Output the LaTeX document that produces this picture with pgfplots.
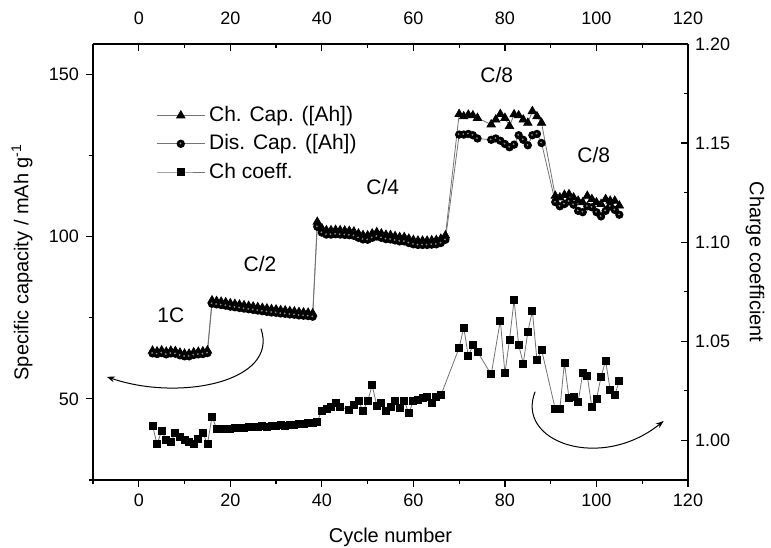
\documentclass[border=0pt]{standalone}
\usepackage{pgfplots}
\pgfplotsset{compat=1.18}
\usepackage{fontspec}
\setmainfont{Liberation Sans}
\usetikzlibrary{arrows.meta}

% dark sphere-like marker: black disc with a small light spot
\pgfdeclareplotmark{sball}{%
  \pgfpathcircle{\pgfpointorigin}{\pgfplotmarksize}%
  \pgfsetfillcolor{black}\pgfusepathqfill
  \pgfpathcircle{\pgfpoint{-0.1\pgfplotmarksize}{0.1\pgfplotmarksize}}{0.24\pgfplotmarksize}%
  \pgfsetfillcolor{black!45}\pgfusepathqfill
}

\begin{document}
\begin{tikzpicture}
\pgfplotsset{
  base/.style={
    width=297.5pt, height=218pt, scale only axis,
    xmin=-10, xmax=120, clip=false,
    major tick length=3.5pt, minor tick length=2.2pt,
    every tick/.append style={line width=0.6pt, black},
    tick label style={font=\fontsize{9}{10}\selectfont},
    /pgf/number format/assume math mode=true,
    xtick={0,20,...,120}, minor xtick={-10,10,...,110},
  },
  noarrows/.style={
    axis line style={line width=0.75pt, -},
    every outer x axis line/.append style={-},
    every outer y axis line/.append style={-},
    every inner x axis line/.append style={-},
    every inner y axis line/.append style={-},
  },
  capline/.style={black!55, line width=0.4pt},
}
\def\lab{\fontsize{10.5}{12}\selectfont}

% left axis: capacities
\begin{axis}[base,
  axis x line=bottom, axis y line=left, noarrows, tick align=outside,
  ymin=25, ymax=159.3, ytick={50,100,150}, minor ytick={25,75,125},
  legend style={at={(0.096,0.876)}, anchor=north west, draw=none, fill=none,
    font=\lab, row sep=1pt},
  legend cell align=left,
  legend image code/.code={\draw[mark repeat=2,mark phase=2,#1] plot coordinates {(0cm,0cm) (0.42cm,0cm) (0.84cm,0cm)};},
]
\addplot[capline, mark=triangle*, mark size=2.4pt, mark options={fill=black,draw=black}] coordinates {
 (3,64.8)(4,64.6)(5,64.9)(6,64.5)(7,64.8)(8,64.7)(9,64.2)(10,63.9)(11,63.9)(12,64.3)(13,64.5)(14,64.6)(15,64.9)
 (16,80.3)(17,80.1)(18,79.9)(19,79.7)(20,79.4)(21,79.2)(22,79.0)(23,78.8)(24,78.6)(25,78.4)(26,78.2)(27,78.0)
 (28,77.8)(29,77.6)(30,77.5)(31,77.3)(32,77.2)(33,77.0)(34,76.9)(35,76.7)(36,76.6)(37,76.5)(38,76.3)
 (39,104.5)(40,102.5)(41,101.9)(42,101.9)(43,102.0)(44,101.9)(45,101.8)(46,101.7)(47,101.5)(48,100.9)(49,100.4)
 (50,100.3)(51,100.9)(52,101.3)(53,100.9)(54,100.5)(55,100.4)(56,100.1)(57,99.8)(58,99.8)(59,99.3)(60,98.9)
 (61,98.7)(62,98.7)(63,98.7)(64,98.8)(65,98.9)(66,99.3)(67,100.3)
 (70,137.7)(71,137.0)(72,137.5)(73,137.3)(74,136.5)(77,134.5)(78,136.0)(79,137.7)(80,136.5)(81,134.0)
 (82,137.6)(83,137.3)(84,136.0)(85,135.0)(86,138.6)(87,137.0)(88,135.0)
 (91,112.5)(92,112.0)(93,112.8)(94,113.0)(95,112.0)(96,111.0)(97,110.5)(98,112.5)(99,111.5)(100,110.5)
 (101,110.0)(102,111.5)(103,111.0)(104,111.0)(105,109.5)
};
\addlegendentry{Ch. Cap. ([Ah])}
\addplot[capline, mark=sball, mark size=2.1pt] coordinates {
 (3,64.0)(4,63.8)(5,64.1)(6,63.7)(7,64.0)(8,63.9)(9,63.4)(10,63.1)(11,63.1)(12,63.5)(13,63.7)(14,63.8)(15,64.1)
 (16,79.3)(17,79.1)(18,78.9)(19,78.7)(20,78.4)(21,78.2)(22,78.0)(23,77.8)(24,77.6)(25,77.4)(26,77.2)(27,77.0)
 (28,76.8)(29,76.6)(30,76.5)(31,76.3)(32,76.2)(33,76.0)(34,75.9)(35,75.7)(36,75.6)(37,75.5)(38,75.3)
 (39,103.0)(40,101.2)(41,100.6)(42,100.6)(43,100.7)(44,100.6)(45,100.5)(46,100.4)(47,100.2)(48,99.6)(49,99.1)
 (50,99.0)(51,99.6)(52,100.0)(53,99.6)(54,99.2)(55,99.1)(56,98.8)(57,98.5)(58,98.5)(59,98.0)(60,97.6)
 (61,97.4)(62,97.4)(63,97.4)(64,97.5)(65,97.6)(66,98.0)(67,99.0)
 (70,131.4)(71,131.4)(72,131.6)(73,131.2)(74,130.2)(77,129.8)(78,130.2)(79,129.5)(80,128.5)(81,127.5)
 (82,128.3)(83,131.2)(84,129.8)(85,128.1)(86,131.2)(87,131.6)(88,128.8)
 (91,110.6)(92,109.3)(93,110.0)(94,110.8)(95,109.8)(96,107.9)(97,107.5)(98,109.3)(99,109.0)(100,107.5)
 (101,106.2)(102,107.9)(103,109.3)(104,108.2)(105,106.7)
};
\addlegendentry{Dis. Cap. ([Ah])}
\addlegendimage{capline, mark=square*, mark size=1.75pt, mark options={fill=black,draw=black}}
\addlegendentry{Ch coeff.}

\node[font=\lab] at (axis cs:7,75.8) {1C};
\node[font=\lab] at (axis cs:26.5,91.4) {C/2};
\node[font=\lab] at (axis cs:53.3,115.4) {C/4};
\node[font=\lab] at (axis cs:78.2,149.9) {C/8};
\node[font=\lab] at (axis cs:99.4,125.2) {C/8};

\draw[line width=0.5pt, -{Stealth[length=4pt,width=2.8pt]}] (axis cs:26.7,71.6)
  .. controls (axis cs:30.7,55.2) and (axis cs:8.8,49.1) .. (axis cs:-7,56.8);
\draw[line width=0.5pt, -{Stealth[length=4pt,width=2.8pt]}] (axis cs:86.6,52.2)
  .. controls (axis cs:82.2,36.7) and (axis cs:100.9,27.5) .. (axis cs:114.7,43.2);

\node[rotate=90, font=\fontsize{10}{12}\selectfont] at (rel axis cs:-0.1193,0.5)
  {Specific capacity / mAh g\textsuperscript{-1}};
\node[font=\fontsize{10}{12}\selectfont] at (rel axis cs:0.5,-0.1307) {Cycle number};
\end{axis}

% right axis: charge coefficient
\begin{axis}[base,
  axis x line=top, axis y line=right, noarrows, tick align=inside,
  ymin=0.98, ymax=1.20, ytick={1.00,1.05,1.10,1.15,1.20},
  minor ytick={1.025,1.075,1.125,1.175},
  yticklabel style={/pgf/number format/.cd, fixed, fixed zerofill, precision=2},
  xticklabel style={yshift=6pt},
]
\addplot[capline, mark=square*, mark size=1.75pt, mark options={fill=black,draw=black}] coordinates {
 (3,1.0075)(4,0.998)(5,1.005)(6,1.000)(7,0.999)(8,1.004)(9,1.0017)(10,1.0003)(11,0.999)(12,0.998)(13,1.0008)(14,1.004)(15,0.998)
 (16,1.012)(17,1.006)(18,1.0058)(19,1.0060)(20,1.0057)(21,1.0062)(22,1.0065)(23,1.0063)(24,1.0068)(25,1.0066)
 (26,1.0070)(27,1.0072)(28,1.0069)(29,1.0074)(30,1.0072)(31,1.0076)(32,1.0074)(33,1.0078)(34,1.0080)(35,1.0083)
 (36,1.0081)(37,1.0086)(38,1.0090)
 (39,1.0095)(40,1.015)(41,1.0158)(42,1.0167)(43,1.0187)(44,1.017)(46,1.0153)(47,1.018)(48,1.0197)(49,1.015)
 (50,1.0197)(51,1.0278)(52,1.0175)(53,1.0187)(54,1.015)(55,1.017)(56,1.020)(57,1.0163)(58,1.020)(59,1.0137)
 (60,1.020)(61,1.0203)(62,1.0213)(63,1.0217)(64,1.019)(65,1.0217)(66,1.0227)
 (70,1.0467)(71,1.057)(72,1.0425)(73,1.048)(74,1.0447)(77,1.0333)(79,1.0605)(80,1.0338)(81,1.0508)(82,1.0708)
 (83,1.0483)(84,1.0388)(85,1.0547)(86,1.0653)(87,1.0405)(88,1.0458)
 (91,1.0158)(92,1.0158)(93,1.0392)(94,1.0213)(95,1.022)(96,1.0195)(97,1.0338)(98,1.0325)(99,1.0167)(100,1.0208)
 (101,1.032)(102,1.0403)(103,1.0253)(104,1.023)(105,1.030)
};
\node[rotate=-90, font=\fontsize{10}{12}\selectfont] at (rel axis cs:1.1126,0.5) {Charge coefficient};
\end{axis}

\pgfresetboundingbox
\path (-46.5pt,-33.5pt) rectangle (339pt,240pt);
\end{tikzpicture}
\end{document}
